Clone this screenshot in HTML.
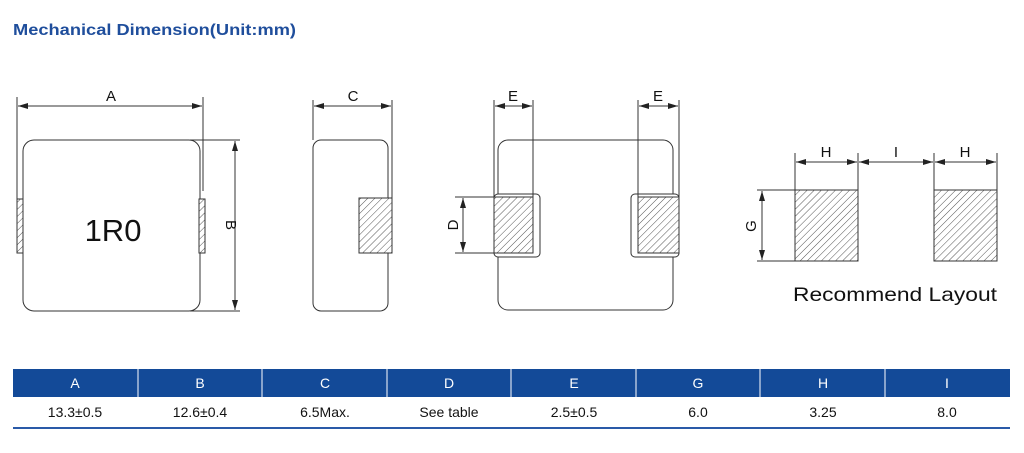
<!DOCTYPE html>
<html><head><meta charset="utf-8"><style>
body{margin:0;width:1024px;height:448px;background:#fff;overflow:hidden;font-family:"Liberation Sans",sans-serif}
</style></head><body>
<svg width="1024" height="448" viewBox="0 0 1024 448" xmlns="http://www.w3.org/2000/svg">
<defs>
<pattern id="h" patternUnits="userSpaceOnUse" width="5" height="5" patternTransform="rotate(45)">
<rect width="5" height="5" fill="#fff"/><line x1="0" y1="0" x2="0" y2="5" stroke="#555" stroke-width="1"/>
</pattern>
<marker id="ar" markerWidth="10" markerHeight="6" refX="10" refY="3" orient="auto-start-reverse" markerUnits="userSpaceOnUse">
<path d="M0,0 L10,3 L0,6 z" fill="#222"/></marker>
</defs>
<text x="13" y="35" font-size="16" font-weight="bold" fill="#1f4e9c" textLength="283" lengthAdjust="spacingAndGlyphs">Mechanical Dimension(Unit:mm)</text>
<g stroke="#333" stroke-width="1" fill="none">
<rect x="23" y="140" width="177" height="171" rx="11" fill="#fff"/>
<rect x="17" y="199" width="6" height="54" fill="url(#h)"/>
<rect x="199" y="199" width="6" height="54" fill="url(#h)"/>
<line x1="17" y1="97" x2="17" y2="199"/><line x1="203" y1="97" x2="203" y2="191"/>
<line x1="18" y1="106" x2="202" y2="106" marker-start="url(#ar)" marker-end="url(#ar)"/>
<line x1="190" y1="140" x2="240" y2="140"/><line x1="190" y1="311" x2="240" y2="311"/>
<line x1="235" y1="141" x2="235" y2="310" marker-start="url(#ar)" marker-end="url(#ar)"/>
<rect x="313" y="140" width="75" height="171" rx="8" fill="#fff"/>
<rect x="359" y="198" width="33" height="55" fill="url(#h)"/>
<line x1="313" y1="100" x2="313" y2="140"/><line x1="392" y1="100" x2="392" y2="198"/>
<line x1="314" y1="106" x2="391" y2="106" marker-start="url(#ar)" marker-end="url(#ar)"/>
<rect x="498" y="140" width="175" height="170" rx="10" fill="#fff"/>
<rect x="494" y="194" width="46" height="63" rx="4" fill="#fff"/>
<rect x="631" y="194" width="48" height="63" rx="4" fill="#fff"/>
<rect x="494" y="197" width="39" height="56" fill="url(#h)"/>
<rect x="638" y="197" width="41" height="56" fill="url(#h)"/>
<line x1="494" y1="100" x2="494" y2="197"/><line x1="533" y1="100" x2="533" y2="197"/>
<line x1="638" y1="100" x2="638" y2="197"/><line x1="679" y1="100" x2="679" y2="197"/>
<line x1="495" y1="106" x2="532" y2="106" marker-start="url(#ar)" marker-end="url(#ar)"/>
<line x1="639" y1="106" x2="678" y2="106" marker-start="url(#ar)" marker-end="url(#ar)"/>
<line x1="455" y1="197" x2="494" y2="197"/><line x1="455" y1="253" x2="494" y2="253"/>
<line x1="463" y1="198" x2="463" y2="252" marker-start="url(#ar)" marker-end="url(#ar)"/>
<rect x="795" y="190" width="63" height="71" fill="url(#h)"/>
<rect x="934" y="190" width="63" height="71" fill="url(#h)"/>
<line x1="795" y1="153" x2="795" y2="190"/><line x1="858" y1="153" x2="858" y2="190"/>
<line x1="934" y1="153" x2="934" y2="190"/><line x1="997" y1="153" x2="997" y2="190"/>
<line x1="796" y1="162" x2="857" y2="162" marker-start="url(#ar)" marker-end="url(#ar)"/>
<line x1="859" y1="162" x2="933" y2="162" marker-start="url(#ar)" marker-end="url(#ar)"/>
<line x1="935" y1="162" x2="996" y2="162" marker-start="url(#ar)" marker-end="url(#ar)"/>
<line x1="757" y1="190" x2="795" y2="190"/><line x1="757" y1="261" x2="795" y2="261"/>
<line x1="762" y1="191" x2="762" y2="260" marker-start="url(#ar)" marker-end="url(#ar)"/>
</g>
<g font-size="15" fill="#111" text-anchor="middle">
<text x="111" y="101">A</text><text x="353" y="101">C</text>
<text x="513" y="101">E</text><text x="658" y="101">E</text>
<text x="826" y="157">H</text><text x="896" y="157">I</text><text x="965" y="157">H</text>
<text transform="translate(226,225) rotate(90)">B</text>
<text transform="translate(458,225) rotate(-90)">D</text>
<text transform="translate(756,226) rotate(-90)">G</text>
<text x="113" y="241" font-size="31">1R0</text>
</g>
<text x="793" y="301" font-size="19.5" fill="#111" textLength="204" lengthAdjust="spacingAndGlyphs">Recommend Layout</text>
<rect x="13" y="369" width="997" height="28" fill="#134a98"/>
<g stroke="#fff" stroke-width="1">
<line x1="138" y1="369" x2="138" y2="397"/><line x1="262" y1="369" x2="262" y2="397"/>
<line x1="387" y1="369" x2="387" y2="397"/><line x1="511" y1="369" x2="511" y2="397"/>
<line x1="636" y1="369" x2="636" y2="397"/><line x1="760" y1="369" x2="760" y2="397"/>
<line x1="885" y1="369" x2="885" y2="397"/>
</g>
<line x1="13" y1="428" x2="1010" y2="428" stroke="#2a5aa8" stroke-width="2"/>
<g font-size="14" text-anchor="middle" fill="#fff">
<text x="75" y="388">A</text><text x="200" y="388">B</text><text x="325" y="388">C</text><text x="449" y="388">D</text>
<text x="574" y="388">E</text><text x="698" y="388">G</text><text x="823" y="388">H</text><text x="947" y="388">I</text>
</g>
<g font-size="14" text-anchor="middle" fill="#111">
<text x="75" y="417">13.3±0.5</text><text x="200" y="417">12.6±0.4</text><text x="325" y="417">6.5Max.</text><text x="449" y="417">See table</text>
<text x="574" y="417">2.5±0.5</text><text x="698" y="417">6.0</text><text x="823" y="417">3.25</text><text x="947" y="417">8.0</text>
</g>
</svg>
</body></html>
